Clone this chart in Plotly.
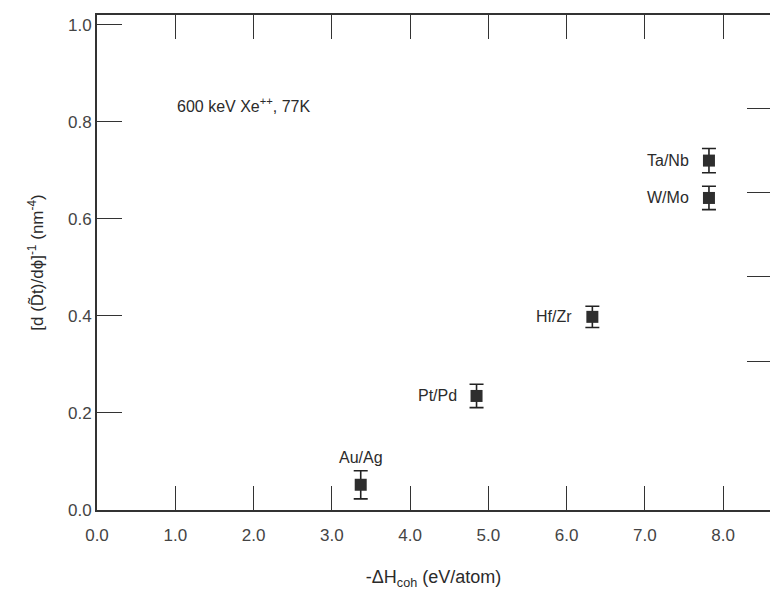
import plotly.graph_objects as go

# Data
systems = ["Au/Ag", "Pt/Pd", "Hf/Zr", "Ta/Nb", "W/Mo"]
dh_coh = [3.37, 4.85, 6.33, 7.82, 7.82]          # -ΔH_coh (eV/atom)
inv_slope = [0.052, 0.235, 0.398, 0.72, 0.643]   # [d(Dt)/dφ]^-1 (nm^-4)
err = [0.029, 0.024, 0.022, 0.025, 0.024]

x_ticks = [0, 1, 2, 3, 4, 5, 6, 7, 8]
y_ticks = [0.0, 0.2, 0.4, 0.6, 0.8, 1.0]
right_ticks = [1, 2, 3, 4]

# label placement (style only)
label_pos = {"Au/Ag": "above", "Pt/Pd": "left", "Hf/Zr": "left", "Ta/Nb": "left", "W/Mo": "left"}

font = "Liberation Sans, Arial, Helvetica, sans-serif"
ink = "#2b2b2b"

fig = go.Figure()
fig.add_trace(go.Scatter(
    x=dh_coh, y=inv_slope, mode="markers",
    marker=dict(symbol="square", size=12, color="#2e2e2e"),
    error_y=dict(type="data", array=err, visible=True, width=7, thickness=1.6, color="#222"),
    showlegend=False, hoverinfo="skip",
))
# invisible trace to carry the right-hand axis
fig.add_trace(go.Scatter(x=[None], y=[None], yaxis="y2", showlegend=False, hoverinfo="skip"))

for name, xv, yv in zip(systems, dh_coh, inv_slope):
    if label_pos[name] == "above":
        fig.add_annotation(x=xv, y=yv, text=name, showarrow=False, xanchor="center",
                           yanchor="bottom", yshift=17, font=dict(size=16, color=ink, family=font))
    else:
        fig.add_annotation(x=xv, y=yv, text=name, showarrow=False, xanchor="right",
                           yanchor="middle", xshift=-18, font=dict(size=16, color=ink, family=font))

fig.add_annotation(x=1.0, y=0.835, text="600 keV Xe<sup>++</sup>, 77K", showarrow=False,
                   xanchor="left", yanchor="middle", font=dict(size=16, color=ink, family=font))

fig.update_layout(
    width=770, height=601,
    margin=dict(l=97, r=0, t=15, b=91),
    paper_bgcolor="white", plot_bgcolor="white",
    font=dict(family=font, size=16, color="#3a3a3a"),
    xaxis=dict(
        range=[0, 8.6], tickvals=x_ticks, tickformat=".1f",
        ticks="inside", ticklen=24, tickwidth=1.4, tickcolor="#333",
        showline=True, linewidth=2, linecolor="#333", mirror="ticks",
        showgrid=False, zeroline=False, ticklabelstandoff=9,
        title=dict(text="-ΔH<sub>coh</sub> (eV/atom)", font=dict(size=18, color=ink), standoff=26),
        tickfont=dict(size=17, color="#444"),
    ),
    yaxis=dict(
        range=[0, 1.02], tickvals=y_ticks, tickformat=".1f",
        ticks="inside", ticklen=25, tickwidth=1.4, tickcolor="#333",
        showline=True, linewidth=2, linecolor="#333", mirror=False,
        showgrid=False, zeroline=False,
        title=dict(text="[d (D\u0303t)/dϕ]<sup>-1</sup> (nm<sup>-4</sup>)", font=dict(size=17, color=ink), standoff=20),
        tickfont=dict(size=17, color="#444"),
    ),
    yaxis2=dict(
        overlaying="y", side="right", range=[-0.767, 5.104], tickvals=right_ticks,
        ticks="inside", ticklen=23, tickwidth=1.4, tickcolor="#333",
        showticklabels=False, showline=False, showgrid=False, zeroline=False,
    ),
)

fig.write_html("out.html")
